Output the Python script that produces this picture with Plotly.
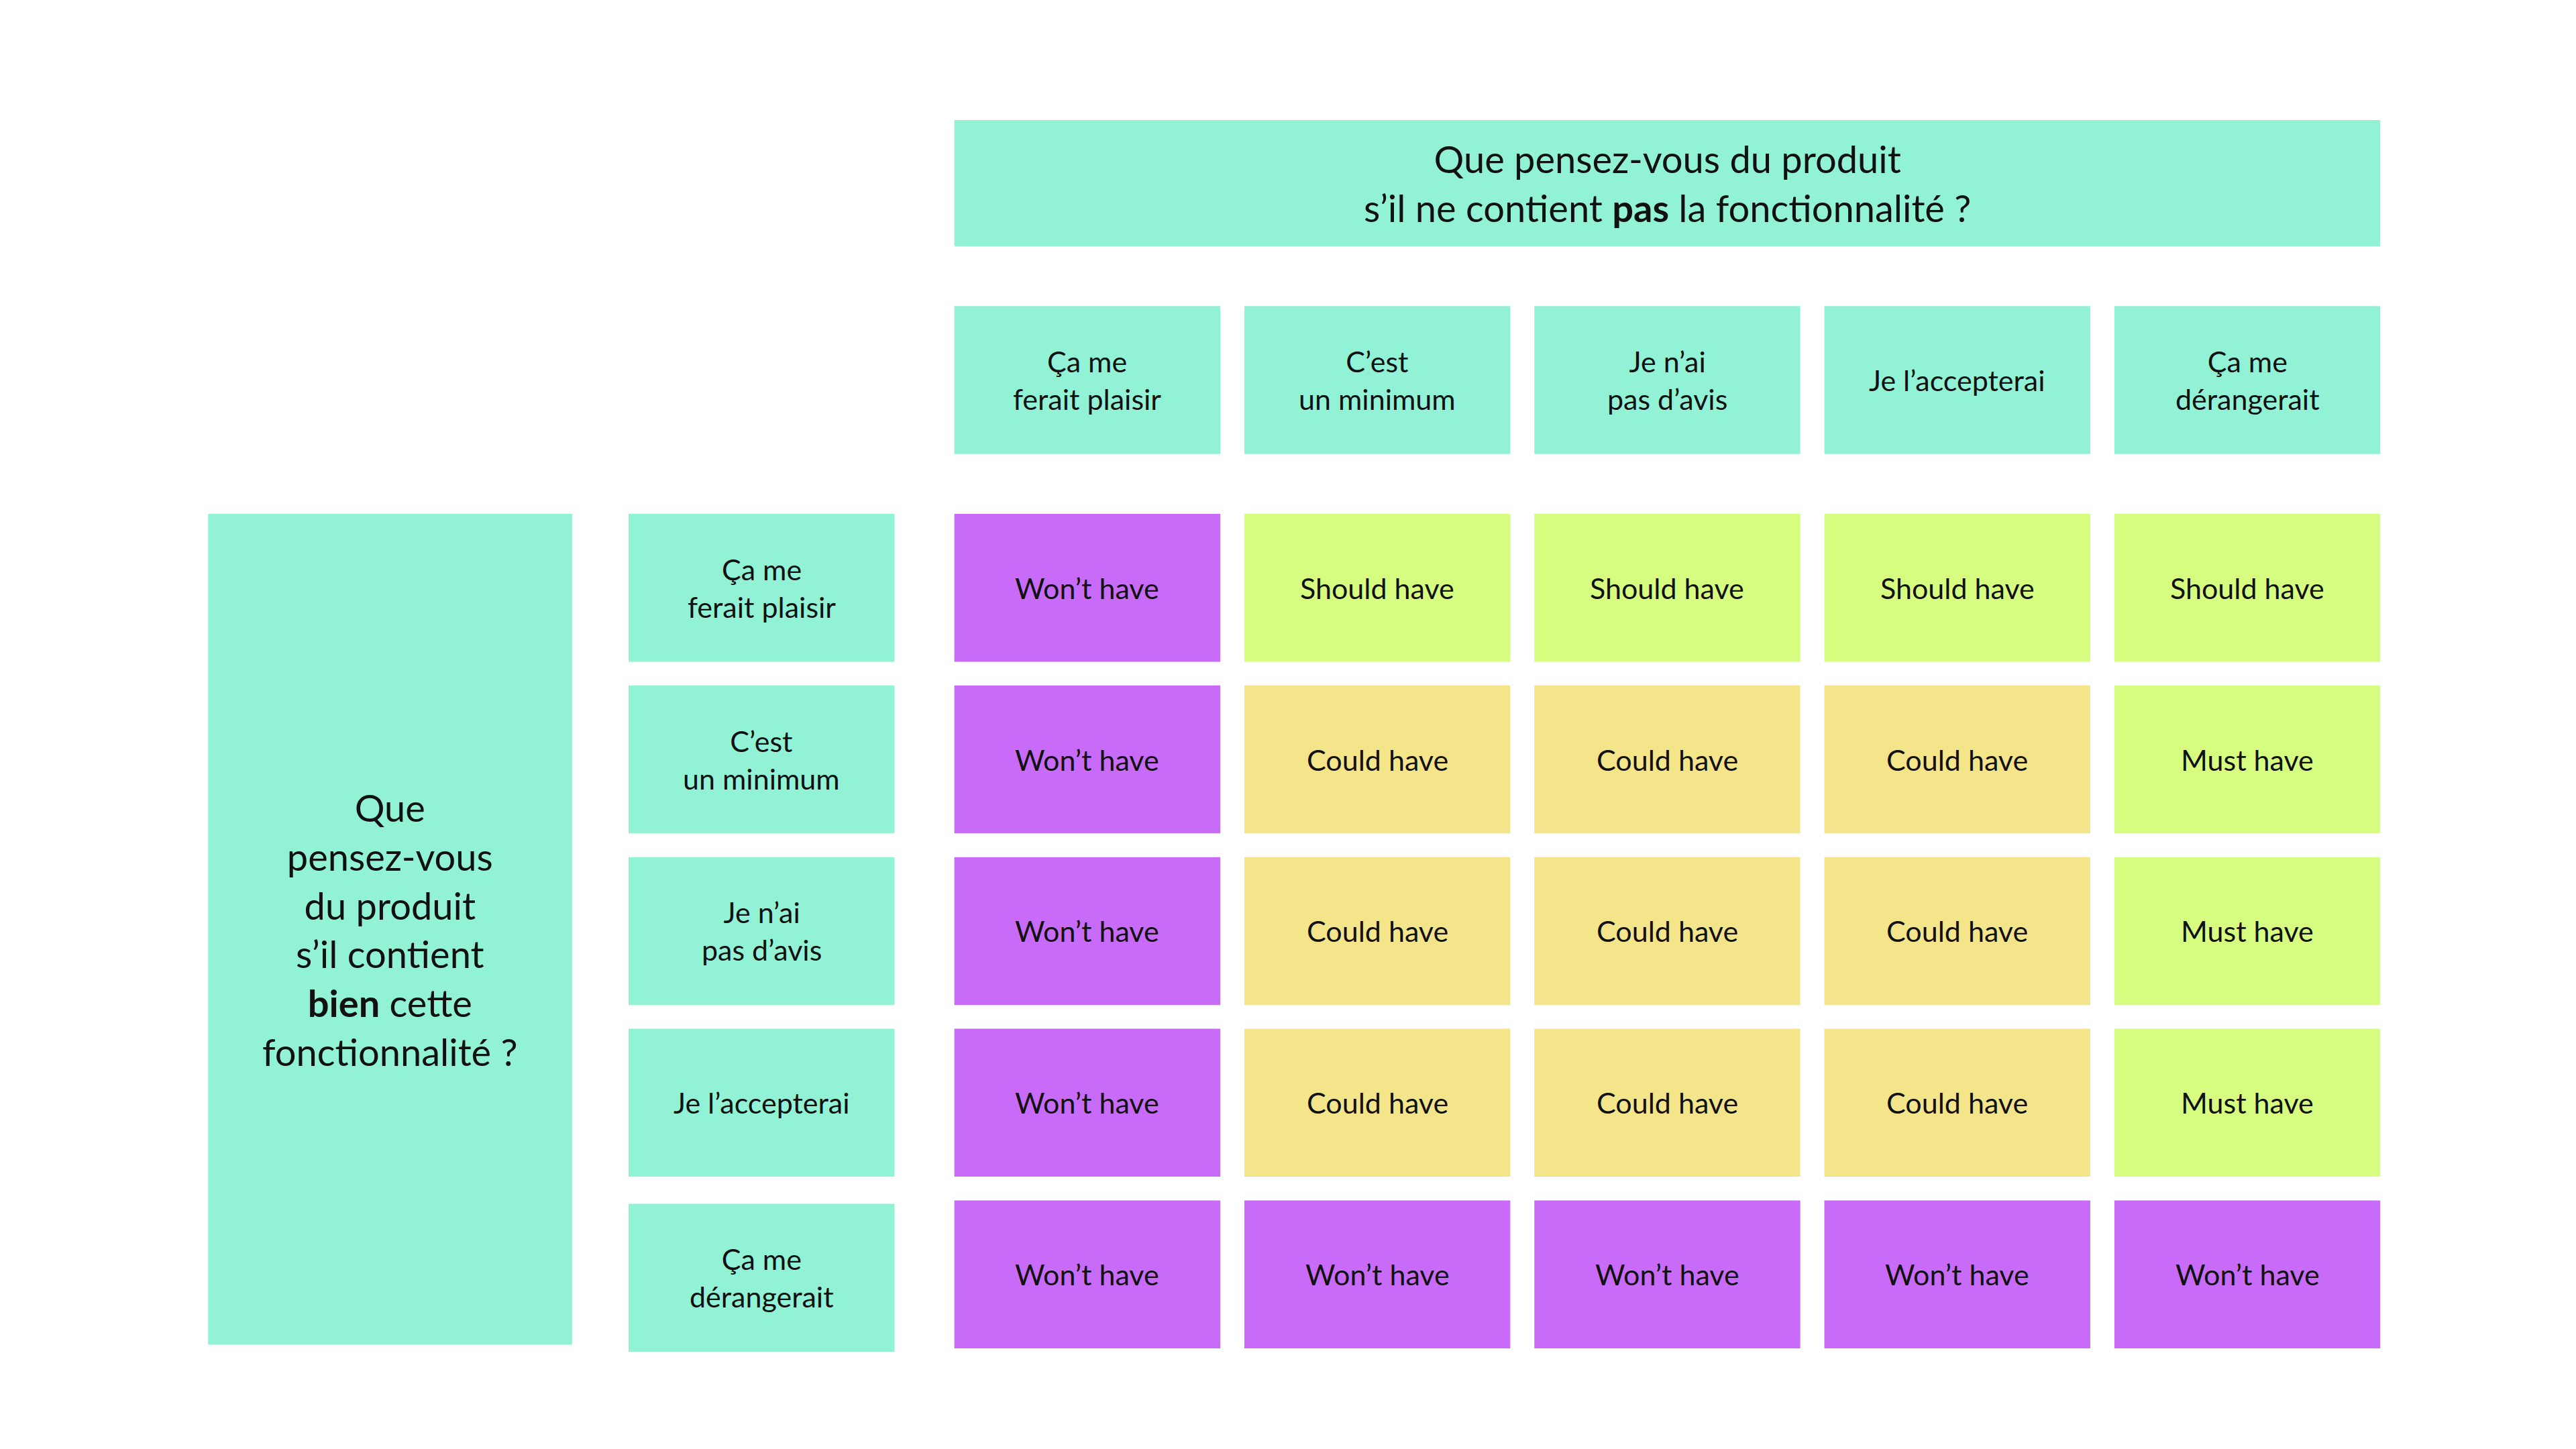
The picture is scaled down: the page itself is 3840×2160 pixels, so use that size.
import plotly.graph_objects as go

# Kano-style matrix: answers to the "functional" (rows) and
# "dysfunctional" (columns) questions
col_labels = ["Ça me<br>ferait plaisir", "C’est<br>un minimum", "Je n’ai<br>pas d’avis",
              "Je l’accepterai", "Ça me<br>dérangerait"]
row_labels = ["Ça me<br>ferait plaisir", "C’est<br>un minimum", "Je n’ai<br>pas d’avis",
              "Je l’accepterai", "Ça me<br>dérangerait"]
cells = [
    ["Won’t have", "Should have", "Should have", "Should have", "Should have"],
    ["Won’t have", "Could have", "Could have", "Could have", "Must have"],
    ["Won’t have", "Could have", "Could have", "Could have", "Must have"],
    ["Won’t have", "Could have", "Could have", "Could have", "Must have"],
    ["Won’t have", "Won’t have", "Won’t have", "Won’t have", "Won’t have"],
]
top_title = "Que pensez-vous du produit<br>s’il ne contient <b>pas</b> la fonctionnalité ?"
left_title = "Que<br>pensez-vous<br>du produit<br>s’il contient<br><b>bien</b> cette<br>fonctionnalité ?"

colors = {
    "Won’t have": "#C86BF8",
    "Should have": "#D6FD80",
    "Could have": "#F5E58A",
    "Must have": "#D6FD80",
}
TEAL = "#92F2D6"
FONT = "Lato"

# grid geometry (in a 1550 x 872 coordinate space)
x0, cw, cstep = 571, 160, 174.5
y0, rh, rstep = 306, 89, 103.3
S = 2.477  # px per unit

fig = go.Figure()
shapes = []
annots = []


def box(xa, ya, xb, yb, color, text, size):
    shapes.append(dict(type="rect", xref="x", yref="y", x0=xa, x1=xb, y0=ya, y1=yb,
                       fillcolor=color, line_width=0, layer="below"))
    annots.append(dict(x=(xa + xb) / 2, y=(ya + yb) / 2, xref="x", yref="y", text=text,
                       showarrow=False, font=dict(family=FONT, size=size, color="#111")))


box(571, 69, 1429, 145, TEAL, top_title, 56)
box(122, 306, 341, 806, TEAL, left_title, 56)

for j, lab in enumerate(col_labels):
    xa = x0 + j * cstep
    box(xa, 181, xa + cw, 270, TEAL, lab, 43)

for i, lab in enumerate(row_labels):
    ya = y0 + i * rstep
    box(375, ya + (2 if i == 4 else 0), 535, ya + rh + (2 if i == 4 else 0), TEAL, lab, 43)
    for j, val in enumerate(cells[i]):
        xa = x0 + j * cstep
        box(xa, ya, xa + cw, ya + rh, colors[val], val, 43)

fig.update_layout(
    width=3840, height=2160, margin=dict(l=0, r=0, t=0, b=0),
    paper_bgcolor="white", plot_bgcolor="white",
    xaxis=dict(range=[0, 1550], visible=False, fixedrange=True),
    yaxis=dict(range=[872, 0], visible=False, fixedrange=True),
    shapes=shapes, annotations=annots, showlegend=False,
)

fig.write_html("out.html")
